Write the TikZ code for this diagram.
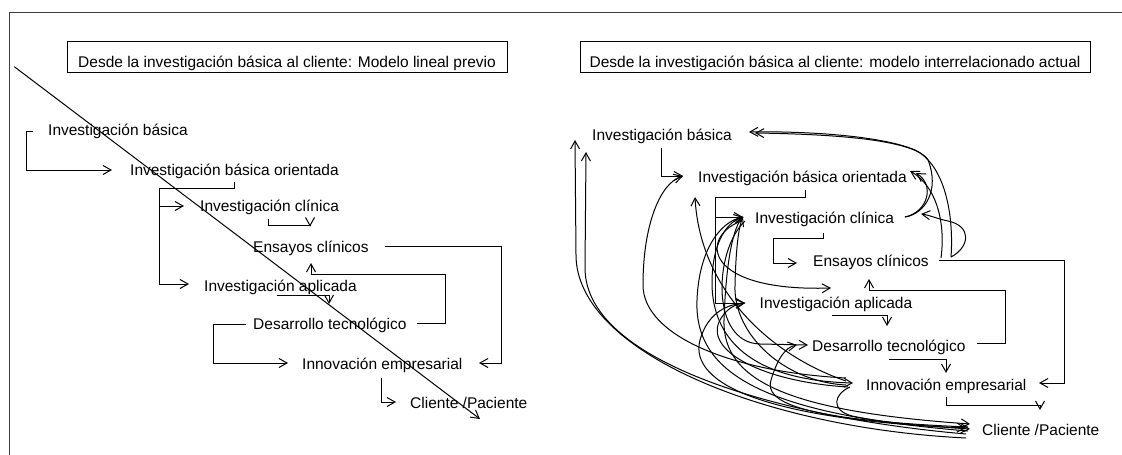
\documentclass[tikz,border=0pt]{standalone}
\usepackage{fontspec}
\setmainfont{Liberation Sans}
\usetikzlibrary{arrows.meta}
\definecolor{framegray}{RGB}{60,60,60}
\begin{document}
\begin{tikzpicture}[x=1pt,y=-1pt,
  wire/.style={line width=1pt, draw=black},
  arr/.style={wire, -{Straight Barb[length=8pt,width=9pt]}},
  lbl/.style={anchor=base west, inner sep=0pt, font=\fontsize{15.5}{18}\selectfont},
  titlebox/.style={draw, line width=1pt, anchor=base, inner xsep=0pt, inner ysep=0pt,
    text height=25.5pt, text depth=5.5pt, font=\fontsize{15.5}{18}\selectfont}
]
\useasboundingbox (0,0) rectangle (1122,455);

% outer frame (top and left edges)
\draw[framegray, line width=1.6pt] (9.6,455) -- (9.6,12.3) -- (1122,12.3);

% ---------------- linear model ----------------
\node[titlebox, minimum width=440pt] (tl) at (287,67.2)
  {Desde la investigación básica al cliente: Modelo lineal previo};

\node[lbl] (l1) at (48,135.5) {Investigación básica};
\node[lbl] (l2) at (130,175.5) {Investigación básica orientada};
\node[lbl] (l3) at (200,211.5) {Investigación clínica};
\node[lbl] (l4) at (253,252.5) {Ensayos clínicos};
\node[lbl] (l5) at (204,291) {Investigación aplicada};
\node[lbl] (l6) at (253,329.5) {Desarrollo tecnológico};
\node[lbl] (l7) at (302,369.5) {Innovación empresarial};
\node[lbl] (l8) at (410,408.5) {Cliente /Paciente};

\coordinate (a0) at (33,131);    \coordinate (a1) at (112,170);
\coordinate (b0) at (234,182);   \coordinate (b1) at (189,284);
\coordinate (b2) at (159,206);   \coordinate (b3) at (184,206);
\coordinate (c0) at (268,219);   \coordinate (c1) at (310,226.5);
\coordinate (d0) at (385,246);   \coordinate (d1) at (479,363);
\coordinate (e0) at (417,323);   \coordinate (e1) at (311,263);
\coordinate (f0) at (246,324);   \coordinate (f1) at (288,363);
\coordinate (g0) at (381,378);   \coordinate (g1) at (396,402);
\coordinate (h0) at (277,295);   \coordinate (h1) at (329,304);
\coordinate (k0) at (14.3,66.7); \coordinate (k1) at (480,419);

\draw[arr] (a0) -- (26.7,131) |- (a1);
\draw[arr] (b0) |- (159,188) |- (b1);
\draw[arr] (b2) -- (b3);
\draw[arr] (c0) |- (310,225) -- (c1);
\draw[arr] (d0) -| (501,363) -- (d1);
\draw[arr] (e0) -| (445,274) -| (e1);
\draw[arr] (f0) -| (213,363) -- (f1);
\draw[arr] (g0) |- (g1);
\draw[arr] (h0) -| (h1);
\draw[arr] (k0) -- (k1);

% ---------------- interrelated model ----------------
\node[titlebox, minimum width=510pt] (tr) at (835,67.2)
  {Desde la investigación básica al cliente: modelo interrelacionado actual};

\node[lbl] (r1) at (592,140) {Investigación básica};
\node[lbl] (r2) at (698,182.5) {Investigación básica orientada};
\node[lbl] (r3) at (755,223.5) {Investigación clínica};
\node[lbl] (r4) at (813,266.5) {Ensayos clínicos};
\node[lbl] (r5) at (759.5,308.5) {Investigación aplicada};
\node[lbl] (r6) at (812,351.5) {Desarrollo tecnológico};
\node[lbl] (r7) at (866,390) {Innovación empresarial};
\node[lbl] (r8) at (982,435.5) {Cliente /Paciente};

% elbow connectors
\coordinate (m0) at (661,148);   \coordinate (iboL) at (683,176);
\coordinate (n0) at (805,190);   \coordinate (iaL) at (745,303);
\coordinate (n2) at (715,217);   \coordinate (icL) at (743,217);
\coordinate (p0) at (823,233);   \coordinate (p1) at (797,263);
\coordinate (q0) at (939,260);   \coordinate (q1) at (1039,383);
\coordinate (s0) at (977,343);   \coordinate (s1) at (869,279);
\coordinate (u0) at (832,315.5); \coordinate (u1) at (887,326);
\coordinate (v0) at (889,359);   \coordinate (v1) at (946,373);
\coordinate (w0) at (946,397);   \coordinate (w1) at (1040,410);

\draw[arr] (m0) |- (iboL);
\draw[arr] (n0) |- (715,197) |- (iaL);
\draw[arr] (n2) -- (icL);
\draw[arr] (p0) |- (773,238) |- (p1);
\draw[arr] (q0) -| (1064,383) -- (q1);
\draw[arr] (s0) -| (1005,290) -| (s1);
\draw[arr] (u0) -| (u1);
\draw[arr] (v0) -| (v1);
\draw[arr] (w0) |- (1040,405) -- (w1);

% curved links
\coordinate (ibU1) at (575,140);
\coordinate (ibU2) at (586,152);
\coordinate (ibR)  at (749,132);
\coordinate (ibR2) at (755,133);
\coordinate (iboB) at (695,197);
\coordinate (iboR) at (910,171);
\coordinate (iboR2) at (916,173);
\coordinate (icR)  at (905,217);
\coordinate (icRi) at (921,214);
\coordinate (icL2) at (741,221);
\coordinate (icL3) at (745,221);
\coordinate (ecR)  at (941,258);
\coordinate (ecR2) at (951,257);
\coordinate (iaT)  at (831,288);
\coordinate (dtL)  at (808,345);
\coordinate (dtL2) at (797,345);
\coordinate (ieL)  at (853,383);
\coordinate (ie1) at (846,378);
\coordinate (ie2) at (846,381);
\coordinate (ie4) at (846,385);
\coordinate (ie5) at (848,387);
\coordinate (ie6) at (850,387);
\coordinate (cp1) at (966,438);
\coordinate (cp2) at (966,434);
\coordinate (cp3) at (968,431);
\coordinate (cp4) at (970,424);
\coordinate (cp5) at (966,428);
\coordinate (cp6) at (968,427);
\coordinate (cp7) at (970,429);

\draw[arr] (cp1) .. controls (760,428) and (576,350) .. (576,255) -- (ibU1);
\draw[arr] (cp2) .. controls (780,418) and (585,362) .. (585,268) -- (ibU2);
\draw[arr] (ie1) .. controls (730,372) and (643,335) .. (643,285)
                 .. controls (643,225) and (660,183) .. (iboL);
\draw[arr] (ie2) .. controls (770,355) and (700,290) .. (iboB);
\draw[arr] (cp3) .. controls (760,414) and (694,372) .. (697,300)
                 .. controls (699,250) and (720,222) .. (icL);
\draw[arr] (icL) .. controls (728,221) and (713,240) .. (712,280)
                 .. controls (711,330) and (740,380) .. (ieL);
\draw[arr] (icL) .. controls (733,226) and (726,262) .. (724,320)
                 .. controls (722,385) and (800,412) .. (cp4);
\draw[arr] (ie4) .. controls (785,382) and (733,335) .. (735,285)
                 .. controls (736,245) and (739,226) .. (icL);
\draw[arr] (icL2) .. controls (698,238) and (705,292) .. (iaT);
\draw[arr] (iaL) .. controls (728,304) and (708,312) .. (700,340)
                 .. controls (688,385) and (770,420) .. (cp5);
\draw[arr] (ie5) .. controls (765,382) and (706,352) .. (719,322)
                 .. controls (726,308) and (736,304) .. (iaL);
\draw[arr] (icL3) .. controls (714,250) and (710,343) .. (760,344) -- (dtL);
\draw[arr] (cp6) .. controls (800,420) and (764,402) .. (771,380)
                 .. controls (777,360) and (785,347) .. (dtL2);
\draw[arr] (ie6) .. controls (834,394) and (830,410) .. (852,416)
                 .. controls (890,424) and (940,427) .. (cp7);
\draw[arr] (ecR2) .. controls (954,215) and (945,165) .. (915,150)
                  .. controls (880,135) and (800,131) .. (ibR);
\draw[arr] (icR) .. controls (925,214) and (940,190) .. (928,160)
                 .. controls (915,138) and (820,134) .. (ibR2);
\draw[arr] (ecR) .. controls (946,220) and (935,185) .. (iboR);
\draw[arr] (icR) .. controls (928,212) and (935,185) .. (iboR2);
\draw[arr] (ecR2) .. controls (970,247) and (972,226) .. (948,221)
                  .. controls (938,219) and (929,215) .. (icRi);
\end{tikzpicture}
\end{document}
